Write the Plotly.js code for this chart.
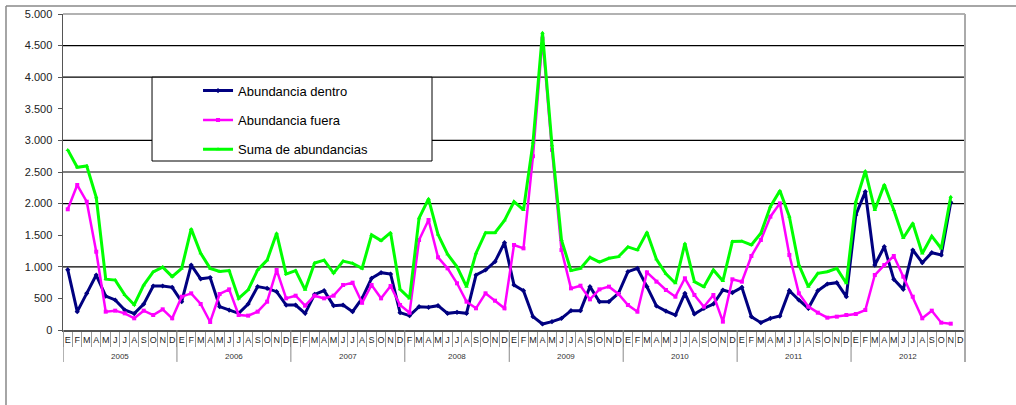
<!DOCTYPE html>
<html>
<head>
<meta charset="utf-8">
<script src="https://cdn.plot.ly/plotly-3.0.1.min.js"></script>
<style>
  html, body { margin: 0; padding: 0; background: #fff; }
  #chart { width: 1016px; height: 405px; }
</style>
</head>
<body>
<div id="chart"></div>
<script>
// ---- Data ----
const years = [2005, 2006, 2007, 2008, 2009, 2010, 2011, 2012];
const monthLetters = ['E', 'F', 'M', 'A', 'M', 'J', 'J', 'A', 'S', 'O', 'N', 'D'];
// months absent from the category axis (year, month index)
const missingMonths = [[2008, 0]];

const seriesNames = ['Abundancia dentro', 'Abundancia fuera', 'Suma de abundancias'];

const dentro = [
  955, 290, 580, 870, 535, 475, 316, 260, 410, 696, 696, 675,
  448, 1028, 810, 830, 369, 316, 264, 411, 686, 659, 606, 395,
  395, 264, 564, 622, 385, 395, 290, 500, 818, 907, 886, 274,
  227, 369, 359, 385, 264, 280, 264, 870, 949, 1081, 1382,
  712, 622, 211, 95, 132, 185, 306, 306, 686, 448, 448, 580,
  923, 976, 686, 380, 300, 237, 580, 253, 343, 411, 633, 591,
  675, 211, 116, 185, 221, 622, 475, 343, 622, 728, 749, 527,
  1820, 2188, 1028, 1318, 802, 643, 1266, 1065, 1223, 1187, 2020, null
];
const fuera = [
  1910, 2294, 2030, 1239, 290, 306, 264, 185, 306, 237, 327, 185,
  527, 580, 411, 127, 570, 643, 237, 227, 290, 448, 949, 501,
  543, 385, 543, 501, 543, 712, 749, 430, 712, 501, 696, 396,
  274, 1424, 1741, 1150, 976, 739, 448, 343, 580, 464, 343,
  1345, 1292, 2750, 4610, 2850, 1266, 659, 701, 485, 643, 686, 570,
  396, 290, 912, 765, 633, 527, 818, 554, 369, 554, 132, 802,
  765, 1171, 1424, 1793, 2004, 1187, 580, 369, 274, 195, 211, 237,
  253, 316, 870, 1028, 1171, 844, 527, 185, 306, 116, 100, null
];
const suma = [
  2850, 2575, 2595, 2100, 805, 790, 555, 400, 710, 920, 995, 845,
  975, 1600, 1215, 975, 925, 940, 500, 635, 950, 1105, 1530, 885,
  940, 635, 1060, 1105, 900, 1090, 1055, 975, 1505, 1415, 1540, 645,
  500, 1770, 2075, 1510, 1200, 1000, 686, 1215, 1540, 1540, 1735,
  2030, 1900, 2965, 4705, 2925, 1425, 940, 975, 1150, 1075, 1135, 1160,
  1315, 1265, 1545, 1120, 890, 740, 1370, 765, 685, 950, 775, 1400,
  1405, 1345, 1530, 1950, 2205, 1795, 1030, 686, 897, 923, 975, 740,
  2030, 2515, 1900, 2300, 1900, 1455, 1690, 1210, 1485, 1290, 2110, null
];

const yTickValues = [0, 500, 1000, 1500, 2000, 2500, 3000, 3500, 4000, 4500, 5000];
const gridValues = [1000, 2000, 2500, 3000, 4000, 4500];

// ---- Category axis built from years and months ----
const catYear = [], catMonth = [];
years.forEach(y => {
  monthLetters.forEach((m, mi) => {
    if (missingMonths.some(p => p[0] === y && p[1] === mi)) return;
    catYear.push(y);
    catMonth.push(m);
  });
});
const idx = catYear.map((_, i) => i);
const nCat = idx.length;
const boundaries = [];
for (let i = 0; i <= nCat; i++) boundaries.push(i - 0.5);

// year spans
const yearSpans = [];
years.forEach(y => {
  const ids = idx.filter(i => catYear[i] === y);
  yearSpans.push({ year: y, start: ids[0] - 0.5, end: ids[ids.length - 1] + 0.5 });
});

const FONT = 'Liberation Sans, Arial, sans-serif';

const traces = [
  { name: seriesNames[0], y: dentro, color: '#000080', width: 3, symbol: 'diamond' },
  { name: seriesNames[1], y: fuera, color: '#ff00ff', width: 2.5, symbol: 'square' },
  { name: seriesNames[2], y: suma, color: '#00ff00', width: 3, symbol: 'triangle-up' }
].map((s, k) => ({
  type: 'scatter',
  mode: 'lines+markers',
  x: idx,
  y: s.y,
  name: s.name,
  legendgroup: 'g' + k,
  line: { color: s.color, width: s.width },
  marker: { color: s.color, size: 4, symbol: s.symbol },
  connectgaps: false,
  hoverinfo: 'skip'
}));

const shapes = [];
// horizontal gridlines
gridValues.forEach(v => shapes.push({
  type: 'line', xref: 'paper', yref: 'y', x0: 0, x1: 1, y0: v, y1: v,
  line: { color: '#000', width: 1.2 }, layer: 'below'
}));
// legend box (white, hides gridlines behind)
shapes.push({
  type: 'rect', xref: 'paper', yref: 'paper',
  x0: 0.0987, x1: 0.4091, y0: 0.5348, y1: 0.8,
  fillcolor: '#fff', line: { color: '#000', width: 1 }, layer: 'below'
});
// plot area top and right border
shapes.push({ type: 'line', xref: 'paper', yref: 'paper', x0: 0, x1: 1, y0: 1, y1: 1,
  line: { color: '#999', width: 1.5 } });
shapes.push({ type: 'line', xref: 'paper', yref: 'paper', x0: 1, x1: 1, y0: 1, y1: -0.101,
  line: { color: '#aaa', width: 2 } });
// year dividers below the axis
yearSpans.forEach((s, i) => {
  if (i === 0) {
    shapes.push({ type: 'line', xref: 'x', yref: 'paper', x0: s.start, x1: s.start, y0: 0, y1: -0.101,
      line: { color: '#999', width: 1.5 } });
  }
  if (i < yearSpans.length - 1) {
    shapes.push({ type: 'line', xref: 'x', yref: 'paper', x0: s.end, x1: s.end, y0: 0, y1: -0.101,
      line: { color: '#888', width: 1 } });
  }
});
// outer chart frame (top and left edges)
shapes.push({ type: 'line', xref: 'paper', yref: 'paper', x0: -0.0632, x1: 1.06, y0: 1.0253, y1: 1.0253,
  line: { color: '#888', width: 1.5 } });
shapes.push({ type: 'line', xref: 'paper', yref: 'paper', x0: -0.0632, x1: -0.0632, y0: 1.0253, y1: -0.25,
  line: { color: '#888', width: 1.5 } });

const annotations = yearSpans.map(s => ({
  xref: 'x', yref: 'paper', x: (s.start + s.end) / 2, y: -0.084,
  text: String(s.year), showarrow: false,
  font: { family: FONT, size: 8, color: '#333' },
  xanchor: 'center', yanchor: 'middle'
}));

const layout = {
  width: 1016, height: 405,
  margin: { l: 63, r: 51, t: 14, b: 75 },
  paper_bgcolor: '#fff', plot_bgcolor: '#fff',
  separators: ',.',
  font: { family: FONT, color: '#000' },
  showlegend: true,
  legend: {
    x: 0.1497, y: 0.805, xanchor: 'left', yanchor: 'top',
    bgcolor: 'rgba(0,0,0,0)', borderwidth: 0,
    font: { family: FONT, size: 13, color: '#000' },
    tracegroupgap: 9.5
  },
  xaxis: {
    range: [-0.5, nCat - 0.5],
    tickmode: 'array', tickvals: idx, ticktext: catMonth,
    ticks: '', showgrid: false, zeroline: false,
    showline: true, linecolor: '#555', linewidth: 1.5,
    tickfont: { family: FONT, size: 9, color: '#222' },
    tickangle: 0,
    ticklabelstandoff: 1,
    minor: { tickmode: 'array', tickvals: boundaries, ticks: 'outside', ticklen: 15, tickcolor: '#999', tickwidth: 1, showgrid: false },
    fixedrange: true
  },
  yaxis: {
    range: [0, 5000],
    tickmode: 'array', tickvals: yTickValues, tickformat: ',d',
    ticks: 'outside', ticklen: 4, tickcolor: '#555',
    showgrid: false, zeroline: false,
    showline: true, linecolor: '#555', linewidth: 1.5,
    tickfont: { family: FONT, size: 11, color: '#222' },
    ticklabelstandoff: 3,
    fixedrange: true
  },
  shapes: shapes,
  annotations: annotations
};

Plotly.newPlot('chart', traces, layout, { displayModeBar: false, staticPlot: true });
</script>
</body>
</html>
